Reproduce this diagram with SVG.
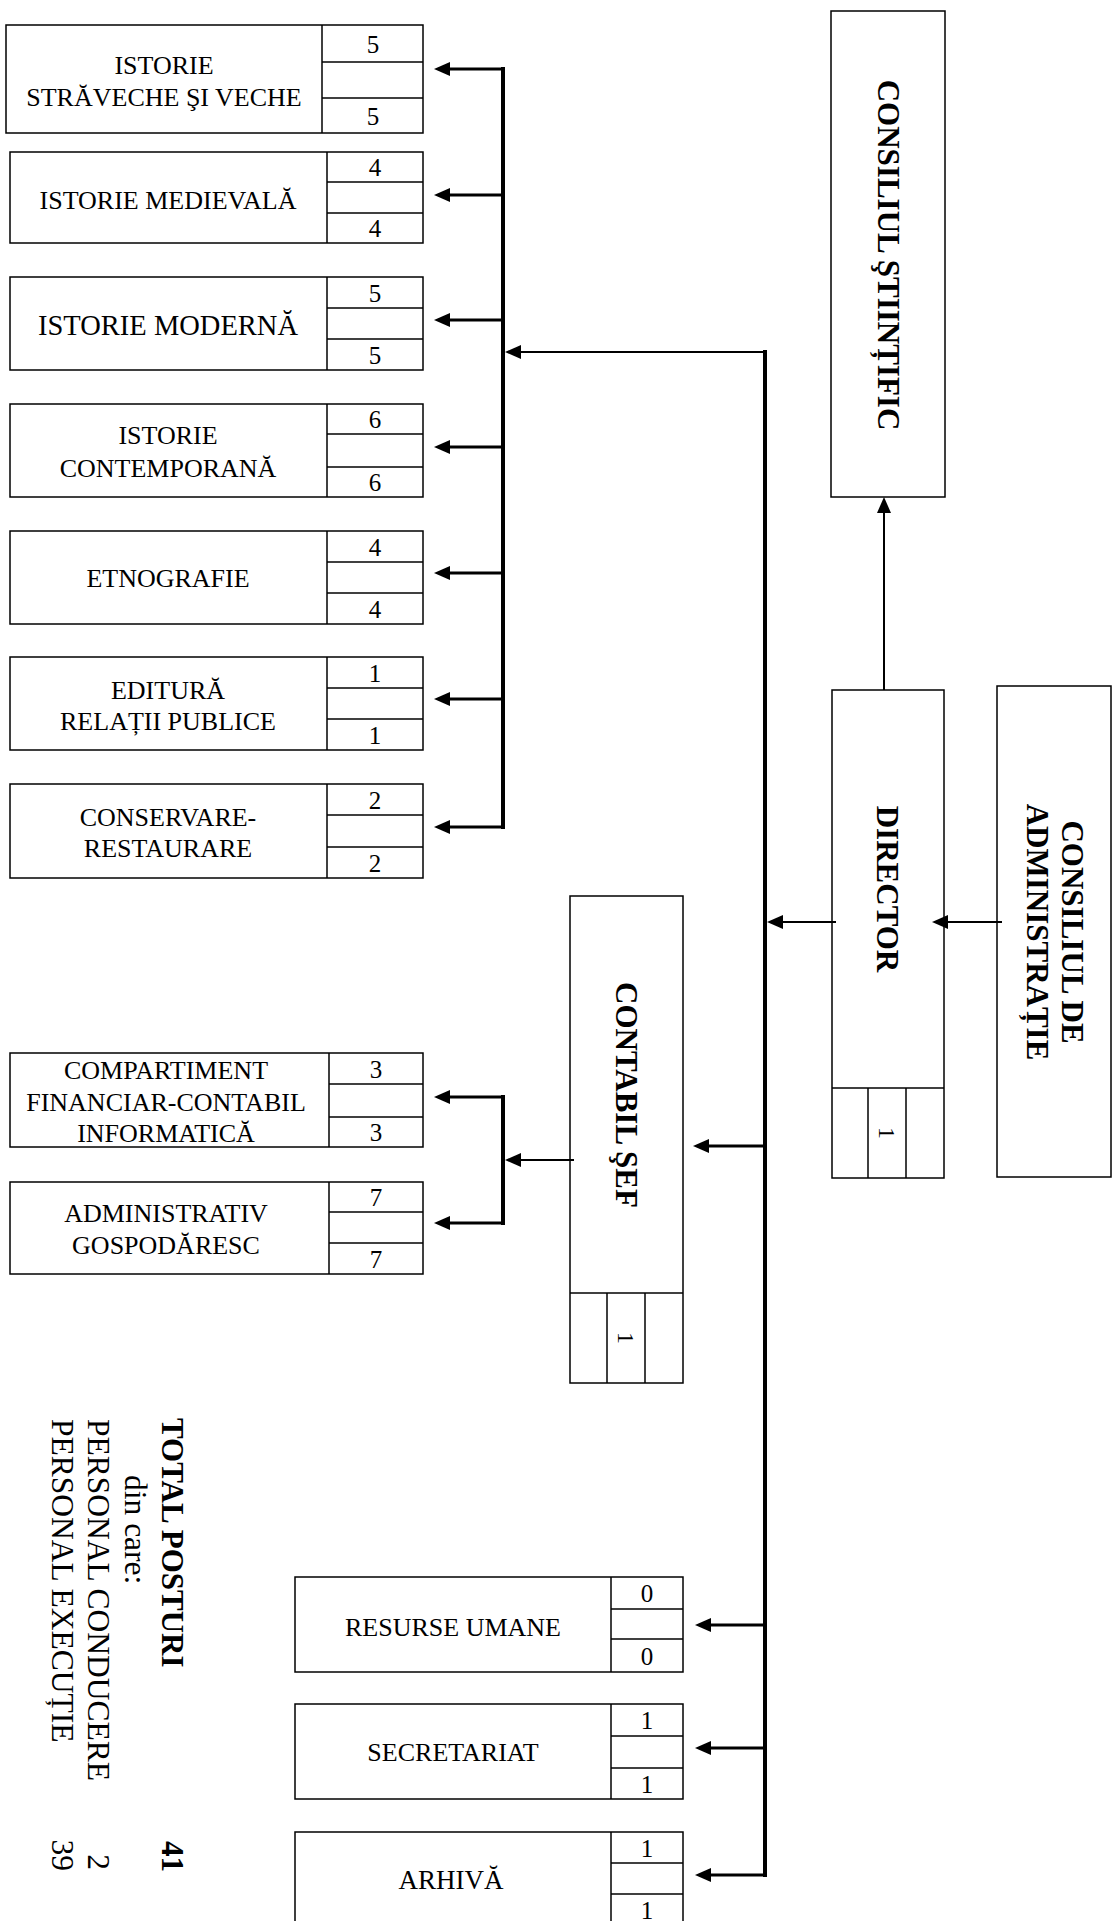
<svg xmlns="http://www.w3.org/2000/svg" width="1112" height="1921" viewBox="0 0 1112 1921">
<style>
  .bx rect, .bx line { fill: #fff; stroke: #000; stroke-width: 1.5; }
  .bx line { fill: none; }
  text { font-family: "Liberation Serif", "Times New Roman", serif; fill: #000; }
  .lb { font-size: 26px; text-anchor: middle; }
  .nm { font-size: 25px; text-anchor: middle; }
  .vt { font-size: 31px; font-weight: bold; text-anchor: middle; }
  .vn { font-size: 24px; text-anchor: middle; }
  .tb { font-size: 31px; font-weight: bold; }
  .tr { font-size: 31.5px; }
  .bus { stroke: #000; stroke-width: 4; fill: none; stroke-linecap: square; }
  .br { stroke: #000; stroke-width: 3; fill: none; }
  .th { stroke: #000; stroke-width: 2; fill: none; }
</style>
<defs>
  <marker id="ah" markerUnits="userSpaceOnUse" markerWidth="17" markerHeight="15" viewBox="0 0 17 15" refX="10" refY="7.5" orient="auto">
    <path d="M0,0.5 L16,7.5 L0,14.5 z" fill="#000"/>
  </marker>
</defs>
<rect x="0" y="0" width="1112" height="1921" fill="#fff"/>

<!-- left column nodes -->
<g id="n-istorie-straveche" class="bx">
  <rect x="6" y="25" width="417" height="108"/>
  <line x1="322" y1="25" x2="322" y2="133"/>
  <line x1="322" y1="62" x2="423" y2="62"/>
  <line x1="322" y1="98" x2="423" y2="98"/>
  <text class="lb" x="164" y="74">ISTORIE</text>
  <text class="lb" x="164" y="106">STRĂVECHE ŞI VECHE</text>
  <text class="nm" x="373" y="53">5</text>
  <text class="nm" x="373" y="125">5</text>
</g>
<g id="n-istorie-medievala" class="bx">
  <rect x="10" y="152" width="413" height="91"/>
  <line x1="327" y1="152" x2="327" y2="243"/>
  <line x1="327" y1="182" x2="423" y2="182"/>
  <line x1="327" y1="213" x2="423" y2="213"/>
  <text class="lb" x="168" y="209">ISTORIE MEDIEVALĂ</text>
  <text class="nm" x="375" y="176">4</text>
  <text class="nm" x="375" y="237">4</text>
</g>
<g id="n-istorie-moderna" class="bx">
  <rect x="10" y="277" width="413" height="93"/>
  <line x1="327" y1="277" x2="327" y2="370"/>
  <line x1="327" y1="308" x2="423" y2="308"/>
  <line x1="327" y1="339" x2="423" y2="339"/>
  <text class="lb" x="168" y="335" style="font-size:28.5px">ISTORIE MODERNĂ</text>
  <text class="nm" x="375" y="302">5</text>
  <text class="nm" x="375" y="364">5</text>
</g>
<g id="n-istorie-contemporana" class="bx">
  <rect x="10" y="404" width="413" height="93"/>
  <line x1="327" y1="404" x2="327" y2="497"/>
  <line x1="327" y1="434" x2="423" y2="434"/>
  <line x1="327" y1="467" x2="423" y2="467"/>
  <text class="lb" x="168" y="444">ISTORIE</text>
  <text class="lb" x="168" y="477">CONTEMPORANĂ</text>
  <text class="nm" x="375" y="428">6</text>
  <text class="nm" x="375" y="491">6</text>
</g>
<g id="n-etnografie" class="bx">
  <rect x="10" y="531" width="413" height="93"/>
  <line x1="327" y1="531" x2="327" y2="624"/>
  <line x1="327" y1="562" x2="423" y2="562"/>
  <line x1="327" y1="593" x2="423" y2="593"/>
  <text class="lb" x="168" y="587">ETNOGRAFIE</text>
  <text class="nm" x="375" y="556">4</text>
  <text class="nm" x="375" y="618">4</text>
</g>
<g id="n-editura" class="bx">
  <rect x="10" y="657" width="413" height="93"/>
  <line x1="327" y1="657" x2="327" y2="750"/>
  <line x1="327" y1="688" x2="423" y2="688"/>
  <line x1="327" y1="719" x2="423" y2="719"/>
  <text class="lb" x="168" y="699">EDITURĂ</text>
  <text class="lb" x="168" y="730">RELAȚII PUBLICE</text>
  <text class="nm" x="375" y="682">1</text>
  <text class="nm" x="375" y="744">1</text>
</g>
<g id="n-conservare" class="bx">
  <rect x="10" y="784" width="413" height="94"/>
  <line x1="327" y1="784" x2="327" y2="878"/>
  <line x1="327" y1="815" x2="423" y2="815"/>
  <line x1="327" y1="847" x2="423" y2="847"/>
  <text class="lb" x="168" y="826">CONSERVARE-</text>
  <text class="lb" x="168" y="857">RESTAURARE</text>
  <text class="nm" x="375" y="809">2</text>
  <text class="nm" x="375" y="872">2</text>
</g>
<g id="n-compartiment" class="bx">
  <rect x="10" y="1053" width="413" height="94"/>
  <line x1="329" y1="1053" x2="329" y2="1147"/>
  <line x1="329" y1="1084" x2="423" y2="1084"/>
  <line x1="329" y1="1117" x2="423" y2="1117"/>
  <text class="lb" x="166" y="1079">COMPARTIMENT</text>
  <text class="lb" x="166" y="1111">FINANCIAR-CONTABIL</text>
  <text class="lb" x="166" y="1142">INFORMATICĂ</text>
  <text class="nm" x="376" y="1078">3</text>
  <text class="nm" x="376" y="1141">3</text>
</g>
<g id="n-administrativ" class="bx">
  <rect x="10" y="1182" width="413" height="92"/>
  <line x1="329" y1="1182" x2="329" y2="1274"/>
  <line x1="329" y1="1212" x2="423" y2="1212"/>
  <line x1="329" y1="1243" x2="423" y2="1243"/>
  <text class="lb" x="166" y="1222">ADMINISTRATIV</text>
  <text class="lb" x="166" y="1254">GOSPODĂRESC</text>
  <text class="nm" x="376" y="1206">7</text>
  <text class="nm" x="376" y="1268">7</text>
</g>

<!-- bottom nodes -->
<g id="n-resurse-umane" class="bx">
  <rect x="295" y="1577" width="388" height="95"/>
  <line x1="611" y1="1577" x2="611" y2="1672"/>
  <line x1="611" y1="1609" x2="683" y2="1609"/>
  <line x1="611" y1="1639" x2="683" y2="1639"/>
  <text class="lb" x="453" y="1636">RESURSE UMANE</text>
  <text class="nm" x="647" y="1602">0</text>
  <text class="nm" x="647" y="1665">0</text>
</g>
<g id="n-secretariat" class="bx">
  <rect x="295" y="1704" width="388" height="95"/>
  <line x1="611" y1="1704" x2="611" y2="1799"/>
  <line x1="611" y1="1736" x2="683" y2="1736"/>
  <line x1="611" y1="1768" x2="683" y2="1768"/>
  <text class="lb" x="453" y="1761">SECRETARIAT</text>
  <text class="nm" x="647" y="1729">1</text>
  <text class="nm" x="647" y="1793">1</text>
</g>
<g id="n-arhiva" class="bx">
  <rect x="295" y="1832" width="388" height="95"/>
  <line x1="611" y1="1832" x2="611" y2="1927"/>
  <line x1="611" y1="1863" x2="683" y2="1863"/>
  <line x1="611" y1="1894" x2="683" y2="1894"/>
  <text class="lb" x="451" y="1889" style="font-size:27px">ARHIVĂ</text>
  <text class="nm" x="647" y="1857">1</text>
  <text class="nm" x="647" y="1919">1</text>
</g>

<!-- right column nodes -->
<g id="n-consiliul-stiintific" class="bx">
  <rect x="831" y="11" width="114" height="486"/>
  <text class="vt" transform="translate(888,255) rotate(90)" x="0" y="10.5">CONSILIUL ŞTIINȚIFIC</text>
</g>
<g id="n-director" class="bx">
  <rect x="832" y="690" width="112" height="488"/>
  <line x1="832" y1="1088" x2="944" y2="1088"/>
  <line x1="868" y1="1088" x2="868" y2="1178"/>
  <line x1="906" y1="1088" x2="906" y2="1178"/>
  <text class="vt" transform="translate(887,889) rotate(90)" x="0" y="10.5">DIRECTOR</text>
  <text class="vn" transform="translate(887,1133) rotate(90)" x="0" y="8">1</text>
</g>
<g id="n-consiliul-administratie" class="bx">
  <rect x="997" y="686" width="114" height="491"/>
  <text class="vt" transform="translate(1054,932) rotate(90)" x="0" y="-7.5">CONSILIUL DE</text>
  <text class="vt" transform="translate(1054,932) rotate(90)" x="0" y="27.5">ADMINISTRAȚIE</text>
</g>
<g id="n-contabil-sef" class="bx">
  <rect x="570" y="896" width="113" height="487"/>
  <line x1="570" y1="1293" x2="683" y2="1293"/>
  <line x1="607" y1="1293" x2="607" y2="1383"/>
  <line x1="645" y1="1293" x2="645" y2="1383"/>
  <text class="vt" transform="translate(626,1095) rotate(90)" x="0" y="10.5">CONTABIL ŞEF</text>
  <text class="vn" transform="translate(626,1338) rotate(90)" x="0" y="8">1</text>
</g>

<!-- totals -->
<g id="n-totaluri">
  <text class="tb" transform="translate(162,1418) rotate(90)">TOTAL POSTURI</text>
  <text class="tr" transform="translate(125,1475) rotate(90)">din care:</text>
  <text class="tr" transform="translate(88,1419) rotate(90)">PERSONAL CONDUCERE</text>
  <text class="tr" transform="translate(52,1419) rotate(90)">PERSONAL EXECUȚIE</text>
  <text class="tb" transform="translate(162,1872) rotate(90)" text-anchor="end">41</text>
  <text class="tr" transform="translate(88,1870) rotate(90)" text-anchor="end">2</text>
  <text class="tr" transform="translate(52,1871) rotate(90)" text-anchor="end">39</text>
</g>

<!-- connectors -->
<g id="connectors">
  <line class="bus" x1="503" y1="69" x2="503" y2="827"/>
  <path class="br" d="M503,69 H440" marker-end="url(#ah)"/>
  <path class="br" d="M503,195 H440" marker-end="url(#ah)"/>
  <path class="br" d="M503,320 H440" marker-end="url(#ah)"/>
  <path class="br" d="M503,447 H440" marker-end="url(#ah)"/>
  <path class="br" d="M503,573 H440" marker-end="url(#ah)"/>
  <path class="br" d="M503,699 H440" marker-end="url(#ah)"/>
  <path class="br" d="M503,827 H440" marker-end="url(#ah)"/>
  <line class="bus" x1="765" y1="352" x2="765" y2="1875"/>
  <path class="th" d="M765,352 H511" marker-end="url(#ah)"/>
  <path class="th" d="M836,922 H773" marker-end="url(#ah)"/>
  <path class="th" d="M1002,922 H938" marker-end="url(#ah)"/>
  <path class="th" d="M884,690 V503" marker-end="url(#ah)"/>
  <path class="br" d="M765,1146 H699" marker-end="url(#ah)"/>
  <path class="br" d="M765,1625 H701" marker-end="url(#ah)"/>
  <path class="br" d="M765,1748 H701" marker-end="url(#ah)"/>
  <path class="br" d="M765,1875 H701" marker-end="url(#ah)"/>
  <path class="th" d="M574,1160 H511" marker-end="url(#ah)"/>
  <line class="bus" x1="503" y1="1097" x2="503" y2="1223"/>
  <path class="br" d="M503,1097 H440" marker-end="url(#ah)"/>
  <path class="br" d="M503,1223 H440" marker-end="url(#ah)"/>
</g>
</svg>
